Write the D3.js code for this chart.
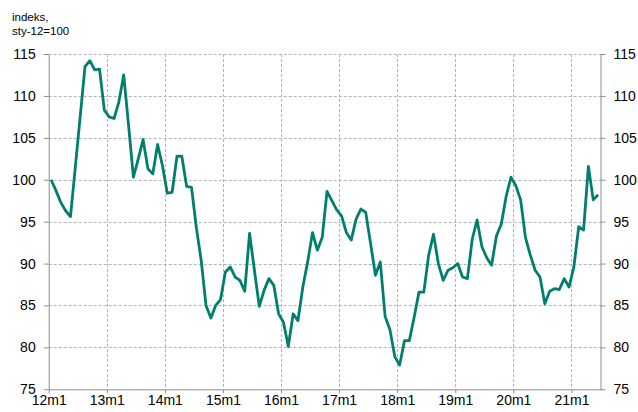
<!DOCTYPE html>
<html>
<head>
<meta charset="utf-8">
<script src="https://cdn.jsdelivr.net/npm/d3@7"></script>
<style>
  body { margin: 0; background: #fff; }
  svg text { font-family: Arial, "Liberation Sans", sans-serif; fill: #000; }
</style>
</head>
<body>
<div id="chart"></div>
<script>
var width = 638,
    height = 412;

// monthly index, sty-12 = 100, from 12m1 to 21m6
var values = [
  100.0, 98.7, 97.3, 96.3, 95.6, 101.5, 107.5, 113.5, 114.2, 113.1, 113.2, 108.3,
  107.5, 107.3, 109.3, 112.5, 106.5, 100.3, 102.5, 104.8, 101.3, 100.7, 104.2, 101.7,
  98.4, 98.5, 102.8, 102.8, 99.2, 99.1, 94.3, 90.4, 85.0, 83.5, 85.0, 85.7,
  89.0, 89.6, 88.4, 88.0, 86.7, 93.6, 89.2, 84.9, 86.8, 88.2, 87.4, 84.0,
  83.0, 80.1, 84.0, 83.2, 87.2, 90.2, 93.7, 91.6, 93.1, 98.6, 97.5, 96.4,
  95.7, 93.7, 92.8, 95.3, 96.5, 96.1, 92.4, 88.6, 90.2, 83.7, 82.1, 78.9,
  77.9, 80.8, 80.8, 83.6, 86.6, 86.6, 91.0, 93.5, 90.0, 88.0, 89.2, 89.5,
  90.0, 88.4, 88.2, 92.9, 95.2, 92.0, 90.7, 89.8, 93.3, 94.7, 98.0, 100.3,
  99.3, 97.6, 93.1, 91.0, 89.2, 88.4, 85.2, 86.7, 87.0, 86.9, 88.2, 87.2,
  89.6, 94.4, 94.0, 101.6, 97.6, 98.2
];

var years = [12, 13, 14, 15, 16, 17, 18, 19, 20, 21];
var categories = [];
years.forEach(function(y) {
  for (var m = 1; m <= 12; m++) categories.push(y + "m" + m);
});
categories = categories.slice(0, values.length);

var tickLabels = ["12m1", "13m1", "14m1", "15m1", "16m1", "17m1", "18m1", "19m1", "20m1", "21m1"];
var yTicks = [75, 80, 85, 90, 95, 100, 105, 110, 115];

var plotL = 48.7, plotR = 600.5, plotT = 54, plotB = 389.3;

var svg = d3.select("#chart").append("svg")
    .attr("width", width)
    .attr("height", height);

var x = d3.scaleLinear().domain([0, categories.length]).range([plotL, plotR]);
var y = d3.scaleLinear().domain([75, 115]).range([plotB, plotT]);

var tickIdx = tickLabels.map(function(t) { return categories.indexOf(t); });

// grid
svg.append("g").selectAll("line")
  .data(yTicks.filter(function(t) { return t > 75; }))
  .join("line")
    .attr("x1", plotL).attr("x2", plotR)
    .attr("y1", function(d) { return Math.round(y(d)) + 0.5; })
    .attr("y2", function(d) { return Math.round(y(d)) + 0.5; })
    .attr("stroke", "#b4b4b4")
    .attr("stroke-dasharray", "3,2");

svg.append("g").selectAll("line")
  .data(tickIdx.slice(1))
  .join("line")
    .attr("x1", function(d) { return Math.round(x(d)) + 0.5; })
    .attr("x2", function(d) { return Math.round(x(d)) + 0.5; })
    .attr("y1", plotT).attr("y2", plotB)
    .attr("stroke", "#b4b4b4")
    .attr("stroke-dasharray", "3,2");

// axes
var yLeft = d3.axisLeft(y).tickValues(yTicks).tickSize(5).tickPadding(8).tickSizeOuter(0);
var yRight = d3.axisRight(y).tickValues(yTicks).tickSize(5).tickPadding(8).tickSizeOuter(0);

var gl = svg.append("g").attr("transform", "translate(" + plotL + ",0)").call(yLeft);
var gr = svg.append("g").attr("transform", "translate(" + plotR + ",0)").call(yRight);

[gl, gr].forEach(function(g) {
  g.select(".domain").attr("stroke", "#8c8c8c");
  g.selectAll(".tick line").attr("stroke", "#8c8c8c");
  g.selectAll(".tick text").attr("font-size", "14px").attr("fill", "#000");
});

var xAxis = d3.axisBottom(x)
  .tickValues(tickIdx)
  .tickFormat(function(d, i) { return tickLabels[i]; })
  .tickSize(4).tickPadding(2)
  .tickSizeOuter(0);

var gx = svg.append("g").attr("transform", "translate(0," + plotB + ")").call(xAxis);
gx.select(".domain").attr("stroke", "#8c8c8c");
gx.selectAll(".tick line").attr("stroke", "#8c8c8c");
gx.selectAll(".tick text").attr("font-size", "14px").attr("fill", "#000");

// line
var line = d3.line()
  .x(function(d, i) { return x(i + 0.5); })
  .y(function(d) { return y(d); });

svg.append("path")
  .datum(values)
  .attr("fill", "none")
  .attr("stroke", "#007f6e")
  .attr("stroke-width", 2.8)
  .attr("stroke-linejoin", "round")
  .attr("d", line);

// unit label
svg.append("text").attr("x", 12).attr("y", 21).attr("font-size", "11.5px").text("indeks,");
svg.append("text").attr("x", 12).attr("y", 35).attr("font-size", "11.5px").text("sty-12=100");
</script>
</body>
</html>
